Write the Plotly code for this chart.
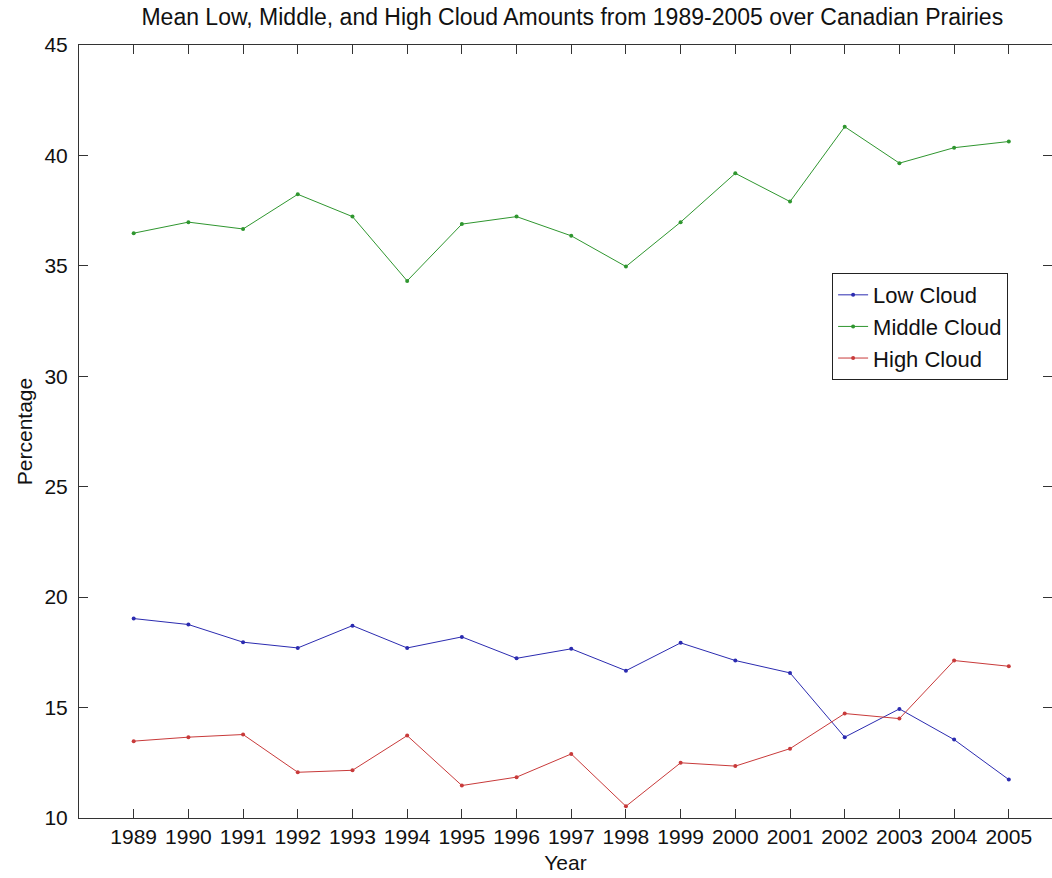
import plotly.graph_objects as go

years = list(range(1989, 2006))
low_cloud = [19.03, 18.76, 17.96, 17.70, 18.71, 17.70, 18.20, 17.23, 17.66,
             16.67, 17.93, 17.13, 16.57, 13.66, 14.94, 13.55, 11.74]
middle_cloud = [36.48, 36.98, 36.67, 38.24, 37.23, 34.32, 36.89, 37.23, 36.36,
                34.97, 36.98, 39.19, 37.91, 41.30, 39.65, 40.35, 40.63]
high_cloud = [13.48, 13.66, 13.78, 12.07, 12.16, 13.73, 11.47, 11.85, 12.90,
              10.53, 12.50, 12.35, 13.14, 14.73, 14.50, 17.13, 16.87]
y_ticks = [10, 15, 20, 25, 30, 35, 40, 45]

FONT = "Liberation Sans, Arial, sans-serif"

fig = go.Figure()
series = [
    ("Low Cloud", low_cloud, "#2b2bb0"),
    ("Middle Cloud", middle_cloud, "#2f962f"),
    ("High Cloud", high_cloud, "#c83a3a"),
]
for name, vals, col in series:
    fig.add_trace(go.Scatter(
        x=years, y=vals, name=name, mode="lines+markers",
        line=dict(color=col, width=1),
        marker=dict(color=col, size=4),
    ))

fig.update_layout(
    width=1052, height=878,
    margin=dict(l=79, r=0, t=45, b=60),
    paper_bgcolor="white", plot_bgcolor="white",
    font=dict(family=FONT, size=21, color="#111"),
    title=dict(text="Mean Low, Middle, and High Cloud Amounts from 1989-2005 over Canadian Prairies",
               x=0.507, xref="paper", y=0.99, yanchor="top",
               font=dict(size=23, family=FONT, color="#111")),
    showlegend=True,
    legend=dict(x=0.774, y=0.705, xanchor="left", yanchor="top",
                bordercolor="#222", borderwidth=1, bgcolor="white",
                font=dict(size=22, family=FONT), tracegroupgap=0),
)
fig.update_xaxes(
    range=[1988, 2005.79], tickmode="array", tickvals=years,
    ticktext=[str(y) for y in years],
    ticks="inside", ticklen=9, tickcolor="#333", tickwidth=1,
    showline=True, linecolor="#333", linewidth=1, mirror="ticks",
    showgrid=False, zeroline=False,
    title=dict(text="Year", standoff=8, font=dict(size=21)),
)
fig.update_yaxes(
    range=[10, 45], tickmode="array", tickvals=y_ticks,
    ticks="inside", ticklen=9, tickcolor="#333", tickwidth=1,
    showline=True, linecolor="#333", linewidth=1, mirror="ticks",
    showgrid=False, zeroline=False, ticklabelstandoff=6,
    title=dict(text="Percentage", standoff=6, font=dict(size=21)),
)

fig.write_html("out.html")
